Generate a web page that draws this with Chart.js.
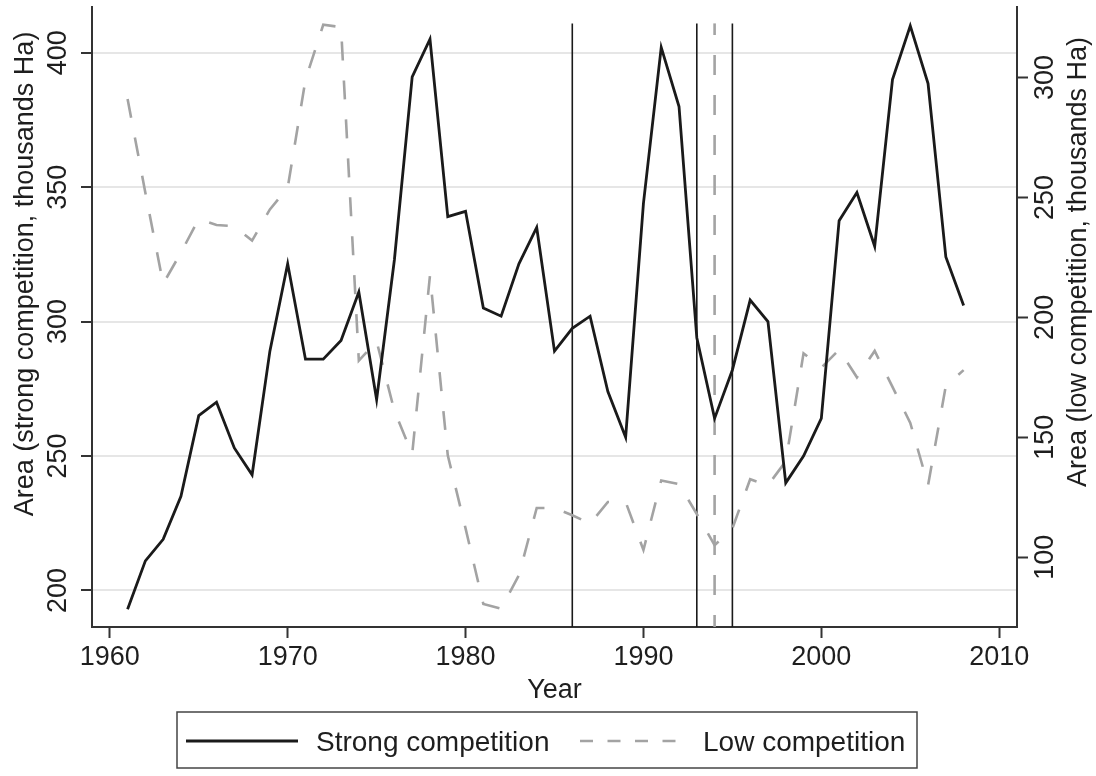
<!DOCTYPE html>
<html>
<head>
<meta charset="utf-8">
<script src="https://cdn.jsdelivr.net/npm/chart.js@4.4.1/dist/chart.umd.min.js"></script>
<style>
  html, body { margin: 0; padding: 0; background: #fff; }
  #wrap { width: 1096px; height: 776px; }
</style>
</head>
<body>
<div id="wrap"><canvas id="chart" width="1096" height="776"></canvas></div>
<script>
// Data
const years = [1961, 1962, 1963, 1964, 1965, 1966, 1967, 1968, 1969, 1970,
               1971, 1972, 1973, 1974, 1975, 1976, 1977, 1978, 1979, 1980,
               1981, 1982, 1983, 1984, 1985, 1986, 1987, 1988, 1989, 1990,
               1991, 1992, 1993, 1994, 1995, 1996, 1997, 1998, 1999, 2000,
               2001, 2002, 2003, 2004, 2005, 2006, 2007, 2008];
const strongArea = [193, 211, 219, 235, 265, 270, 253, 243, 289, 321.5,
                    286, 286, 293, 311, 271, 323, 391, 405, 339, 341,
                    305, 302, 321.5, 335, 289, 297.5, 302, 274, 257, 344,
                    402, 380, 294, 264, 282, 308, 300, 240, 250, 264,
                    337.5, 348, 328, 390, 410, 388.5, 324, 306];
const lowArea = [291, 252, 214, 227, 241, 238.5, 238, 232, 245, 254,
                 299, 322, 321, 182, 190, 161, 143, 217.5, 142.5, 112,
                 80.5, 78.5, 92.5, 120.5, 120.5, 117.5, 114, 123, 123, 103,
                 132, 130.5, 118, 105, 112, 132.5, 130, 140, 185, 179,
                 186.5, 175, 186, 171, 156, 130, 171.5, 178];
const xTicks = [1960, 1970, 1980, 1990, 2000, 2010];
const leftTicks = [200, 250, 300, 350, 400];
const rightTicks = [100, 150, 200, 250, 300];
const solidMarkYears = [1986, 1993, 1995];
const dashedMarkYears = [1994];

const FONT = '27px "Liberation Sans", Arial, sans-serif';
const LEGEND_FONT = '28px "Liberation Sans", Arial, sans-serif';
const TEXT = '#1e1e1e';
const AXIS = '#333333';
const BLACK = '#1a1a1a';
const GREY = '#a3a3a3';

const LEFT_MIN = 186.4, LEFT_MAX = 417;
const markTop = 410.9;

function markLine(yr, dashed) {
  return {
    data: [{ x: yr, y: LEFT_MIN }, { x: yr, y: markTop }],
    yAxisID: 'y',
    borderColor: dashed ? GREY : BLACK,
    borderWidth: dashed ? 2.6 : 1.6,
    borderDash: dashed ? [20, 20] : [],
    borderDashOffset: dashed ? 8 : 0,
    pointRadius: 0,
    order: 3
  };
}

const datasets = [
  {
    label: 'Strong competition',
    data: years.map((y, i) => ({ x: y, y: strongArea[i] })),
    yAxisID: 'y',
    borderColor: BLACK,
    borderWidth: 2.8,
    pointRadius: 0,
    tension: 0,
    order: 0
  },
  {
    label: 'Low competition',
    data: years.map((y, i) => ({ x: y, y: lowArea[i] })),
    yAxisID: 'y2',
    borderColor: GREY,
    borderWidth: 2.6,
    borderDash: [19, 20],
    pointRadius: 0,
    tension: 0,
    order: 1
  }
];
solidMarkYears.forEach(yr => datasets.push(markLine(yr, false)));
dashedMarkYears.forEach(yr => datasets.push(markLine(yr, true)));

// Rotated y labels, x labels, titles and the boxed legend
const textPlugin = {
  id: 'textPlugin',
  afterDraw(chart) {
    const ctx = chart.ctx;
    const area = chart.chartArea;
    const sx = chart.scales.x, sy = chart.scales.y, sy2 = chart.scales.y2;
    ctx.save();
    ctx.font = FONT;
    ctx.fillStyle = TEXT;

    // x tick labels
    ctx.textAlign = 'center';
    ctx.textBaseline = 'alphabetic';
    xTicks.forEach(v => ctx.fillText(String(v), sx.getPixelForValue(v), 665));
    ctx.fillText('Year', (area.left + area.right) / 2, 698);

    // vertical labels, read bottom to top
    function vText(str, x, y) {
      ctx.save();
      ctx.translate(x, y);
      ctx.rotate(-Math.PI / 2);
      ctx.textAlign = 'center';
      ctx.textBaseline = 'alphabetic';
      ctx.fillText(str, 0, 0);
      ctx.restore();
    }
    leftTicks.forEach(v => vText(String(v), 66, sy.getPixelForValue(v)));
    rightTicks.forEach(v => vText(String(v), 1053, sy2.getPixelForValue(v)));
    vText('Area (strong competition, thousands Ha)', 33, 274);
    vText('Area (low competition, thousands Ha)', 1086, 262);

    // legend
    ctx.strokeStyle = '#444';
    ctx.lineWidth = 1.5;
    ctx.strokeRect(177, 712, 740, 56);
    const ly = 741;
    ctx.lineWidth = 2.8;
    ctx.strokeStyle = BLACK;
    ctx.beginPath(); ctx.moveTo(186, ly); ctx.lineTo(298, ly); ctx.stroke();
    ctx.strokeStyle = GREY;
    ctx.lineWidth = 2.6;
    ctx.setLineDash([13, 14.5]);
    ctx.beginPath(); ctx.moveTo(580, ly); ctx.lineTo(690, ly); ctx.stroke();
    ctx.setLineDash([]);
    ctx.font = LEGEND_FONT;
    ctx.textAlign = 'left';
    ctx.fillText('Strong competition', 316, ly + 10);
    ctx.fillText('Low competition', 703, ly + 10);
    ctx.restore();
  }
};

new Chart(document.getElementById('chart'), {
  type: 'line',
  data: { datasets: datasets },
  plugins: [textPlugin],
  options: {
    responsive: false,
    animation: false,
    events: [],
    devicePixelRatio: 1,
    layout: { padding: { top: 7, left: 0, right: 0, bottom: 0 } },
    plugins: { legend: { display: false }, tooltip: { enabled: false } },
    scales: {
      x: {
        type: 'linear',
        position: 'bottom',
        min: 1959,
        max: 2011,
        afterBuildTicks: s => { s.ticks = xTicks.map(v => ({ value: v })); },
        afterFit: s => { s.height = 149; },
        ticks: { display: false },
        grid: { drawOnChartArea: false, drawTicks: true, tickLength: 11, tickColor: AXIS, tickWidth: 2 },
        border: { display: true, color: AXIS, width: 2 }
      },
      y: {
        type: 'linear',
        position: 'left',
        min: LEFT_MIN,
        max: LEFT_MAX,
        afterBuildTicks: s => { s.ticks = leftTicks.map(v => ({ value: v })); },
        afterFit: s => { s.width = 92; },
        ticks: { display: false },
        grid: { color: '#e6e6e6', lineWidth: 2, drawTicks: true, tickLength: 11, tickColor: AXIS, tickWidth: 2 },
        border: { display: true, color: AXIS, width: 2 }
      },
      y2: {
        type: 'linear',
        position: 'right',
        min: 70.9,
        max: 329.4,
        afterBuildTicks: s => { s.ticks = rightTicks.map(v => ({ value: v })); },
        afterFit: s => { s.width = 79; },
        ticks: { display: false },
        grid: { drawOnChartArea: false, drawTicks: true, tickLength: 11, tickColor: AXIS, tickWidth: 2 },
        border: { display: true, color: AXIS, width: 2 }
      }
    }
  }
});
</script>
</body>
</html>
